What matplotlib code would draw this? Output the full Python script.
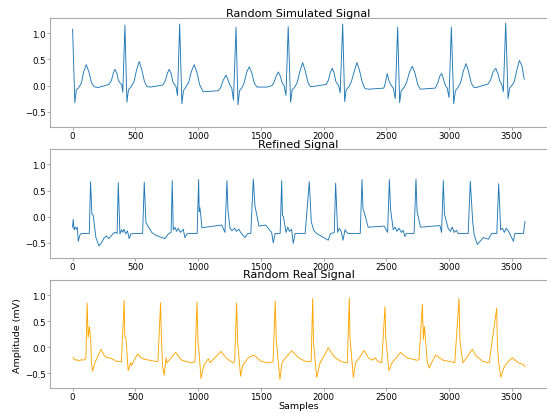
import matplotlib
matplotlib.use("Agg")
import matplotlib.pyplot as plt

# simulated ECG (sample index, amplitude in mV), vertices
sim_x = [0, 18, 30, 50, 70, 88, 109, 130, 150, 170, 200, 290, 310, 325, 338, 352, 365, 378, 392, 400, 417,
         433, 445, 465, 490, 510, 531, 552, 572, 592, 620, 720, 740, 756, 770, 784, 798, 812, 824, 836, 853,
         871, 883, 900, 925, 948, 969, 990, 1012, 1040, 1160, 1180, 1200, 1222, 1240, 1255, 1268, 1282, 1302,
         1318, 1330, 1350, 1368, 1388, 1408, 1428, 1448, 1470, 1550, 1590, 1605, 1622, 1639, 1655, 1670, 1685, 1700, 1718,
         1737, 1750, 1770, 1790, 1812, 1833, 1854, 1875, 1895, 1915, 2020, 2038, 2055, 2069, 2083, 2097, 2110, 2120, 2132, 2152,
         2168, 2180, 2200, 2222, 2245, 2266, 2287, 2308, 2330, 2360, 2480, 2492, 2507, 2522, 2540, 2555, 2571, 2590,
         2606, 2618, 2638, 2660, 2685, 2707, 2728, 2750, 2770, 2890, 2910, 2926, 2941, 2955, 2970, 2985, 2999, 3018,
         3037, 3050, 3070, 3092, 3114, 3135, 3156, 3176, 3195, 3215, 3310, 3330, 3350, 3372, 3390, 3405, 3418, 3432, 3451,
         3470, 3482, 3500, 3520, 3540, 3560, 3580, 3599]
sim_y = [1.08, -0.33, -0.08, -0.04, 0.05, 0.26, 0.40, 0.26, 0.06, -0.02, -0.04, 0.02, 0.10, 0.24, 0.31, 0.24, 0.10, 0.05, 0.02, -0.13, 1.16,
         -0.32, -0.08, -0.03, 0.08, 0.30, 0.46, 0.30, 0.08, -0.02, -0.03, 0.01, 0.10, 0.24, 0.31, 0.24, 0.08, 0.02, -0.02, -0.19, 1.18,
         -0.35, -0.10, -0.04, 0.06, 0.28, 0.40, 0.26, 0.02, -0.12, -0.10, -0.04, 0.10, 0.20, 0.10, 0.00, -0.05, -0.28, 1.12,
         -0.37, -0.10, -0.04, 0.06, 0.26, 0.36, 0.24, 0.04, -0.03, -0.03, 0.00, 0.06, 0.18, 0.26, 0.18, 0.05, 0.00, -0.19, 1.13,
         -0.32, -0.08, -0.03, 0.06, 0.28, 0.44, 0.28, 0.06, -0.02, -0.02, 0.02, 0.10, 0.26, 0.33, 0.25, 0.08, 0.03, 0.00, -0.14, 1.18,
         -0.31, -0.08, -0.03, 0.08, 0.28, 0.44, 0.28, 0.06, -0.06, -0.07, -0.05, 0.05, 0.23, 0.08, 0.00, -0.05, -0.25, 1.12,
         -0.33, -0.10, -0.05, 0.05, 0.26, 0.37, 0.24, 0.02, -0.07, -0.05, 0.05, 0.18, 0.23, 0.12, 0.00, -0.05, -0.23, 1.12,
         -0.35, -0.10, -0.04, 0.06, 0.28, 0.42, 0.26, 0.05, -0.03, -0.04, 0.03, 0.10, 0.26, 0.33, 0.22, 0.08, 0.03, -0.12, 1.20,
         -0.25, -0.05, 0.00, 0.08, 0.30, 0.48, 0.38, 0.12]

# refined signal
ref_x = [0, 5, 12, 20, 30, 37, 45, 60, 72, 133, 143, 154, 164, 186, 199, 210, 235, 252, 271, 289, 324, 340, 355, 364,
         377, 390, 400, 410, 423, 437, 451, 465, 483, 558, 571, 584, 630, 667, 736, 762, 785, 794,
         802, 815, 828, 842, 860, 882, 895, 910, 921, 993, 1004, 1009, 1015, 1031, 1188, 1214, 1230,
         1238, 1254, 1270, 1290, 1305, 1325, 1339, 1373, 1397, 1420, 1440, 1453, 1485, 1538, 1586, 1599, 1614, 1654, 1666,
         1672, 1680, 1701, 1715, 1728, 1745, 1758, 1773, 1853, 1886, 1902, 1923, 1950, 2037, 2053, 2085, 2096,
         2112, 2125, 2140, 2155, 2170, 2185, 2197, 2292, 2306, 2314, 2322, 2355, 2483, 2510, 2524,
         2534, 2555, 2570, 2585, 2600, 2620, 2634, 2647, 2660, 2721, 2736, 2745, 2772, 2927, 2940, 2954,
         2963, 2992, 3010, 3025, 3040, 3059, 3072, 3152, 3169, 3188, 3200, 3225, 3273, 3313, 3339, 3380, 3395,
         3411, 3425, 3440, 3455, 3474, 3512, 3525, 3592, 3605]
ref_y = [-0.20, -0.05, -0.25, -0.20, -0.24, -0.20, -0.47, -0.34, -0.32, -0.32, 0.67, 0.05, 0.03, -0.40, -0.49, -0.56, -0.48, -0.40, -0.37, -0.42, -0.32, -0.30, -0.32, 0.65,
         -0.33, -0.25, -0.30, -0.24, -0.33, -0.27, -0.42, -0.33, -0.32, -0.32, 0.66, -0.11, -0.30, -0.36, -0.42, -0.33, -0.30, 0.69,
         -0.25, -0.20, -0.28, -0.22, -0.30, -0.24, -0.40, -0.33, -0.32, -0.32, 0.71, 0.10, 0.17, -0.21, -0.16, -0.30, 0.69,
         0.13, -0.22, -0.27, -0.22, -0.28, -0.24, -0.30, -0.40, -0.32, -0.32, 0.72, 0.21, -0.18, -0.16, -0.30, -0.50, -0.32, -0.32, 0.69,
         0.02, 0.00, -0.30, -0.20, -0.28, -0.24, -0.51, -0.32, -0.32, 0.67, -0.10, -0.27, -0.33, -0.45, -0.33, -0.30, 0.64,
         -0.30, -0.22, -0.28, -0.45, -0.25, -0.30, -0.32, -0.32, 0.71, 0.15, 0.10, -0.20, -0.18, -0.30, 0.71,
         0.13, -0.25, -0.20, -0.28, -0.22, -0.30, -0.26, -0.38, -0.32, -0.32, 0.72, 0.10, -0.20, -0.17, -0.30, 0.69,
         0.05, -0.22, -0.28, -0.20, -0.30, -0.26, -0.32, -0.32, 0.68, -0.10, -0.35, -0.53, -0.40, -0.43, -0.32, -0.32, 0.63,
         -0.25, -0.22, -0.30, -0.22, -0.28, -0.47, -0.32, -0.32, -0.09]

# real signal
real_x = [5, 20, 35, 50, 70, 85, 106, 116, 124, 135, 145, 151, 159, 178, 205, 226, 250, 271, 306, 351, 389, 411,
          416, 425, 443, 462, 470, 490, 518, 545, 570, 616, 680, 701, 708, 718, 730, 745, 752, 821, 869, 948, 975, 991,
          999, 1008, 1023, 1045, 1082, 1095, 1182, 1230, 1280, 1291, 1307, 1315, 1339, 1355, 1386, 1400, 1445, 1502, 1559, 1597, 1615,
          1623, 1652, 1668, 1690, 1745, 1800, 1853, 1901, 1913, 1920, 1945, 1972, 2000, 2037, 2090, 2143, 2189, 2205,
          2210, 2237, 2255, 2285, 2324, 2356, 2390, 2410, 2430, 2463, 2489, 2496, 2521, 2545, 2614, 2661, 2741, 2760, 2787,
          2795, 2803, 2827, 2843, 2860, 2893, 2953, 3019, 3045, 3079, 3086, 3098, 3110, 3185, 3210, 3266, 3319, 3379,
          3385, 3395, 3413, 3435, 3461, 3503, 3552, 3592, 3605]
real_y = [-0.20, -0.25, -0.24, -0.26, -0.24, -0.25, -0.22, 0.85, 0.19, 0.40, 0.10, -0.30, -0.46, -0.30, -0.15, -0.04, -0.15, -0.20, -0.21, -0.27, -0.28, 0.90,
          0.20, 0.18, -0.45, -0.30, -0.35, -0.25, -0.13, -0.20, -0.23, -0.25, -0.28, 0.86, 0.15, -0.38, -0.54, -0.20, -0.30, -0.10, -0.25, -0.30, -0.28, 0.87,
          0.10, -0.10, -0.60, -0.35, -0.22, -0.30, -0.08, -0.22, -0.30, -0.27, 0.85, 0.10, -0.56, -0.35, -0.25, -0.20, -0.15, -0.27, -0.30, -0.28, 0.89,
          0.13, -0.62, -0.30, -0.22, -0.07, -0.20, -0.27, -0.28, 0.94, 0.08, -0.58, -0.30, -0.18, -0.01, -0.20, -0.28, -0.30, 0.95,
          0.20, -0.58, -0.30, -0.20, -0.06, -0.20, -0.25, -0.20, -0.27, -0.30, 0.78, 0.15, -0.45, -0.30, -0.10, -0.20, -0.25, -0.24, 0.83,
          0.15, 0.40, -0.30, -0.40, -0.30, -0.15, -0.25, -0.28, -0.30, 0.94, 0.15, -0.10, -0.30, -0.04, -0.15, -0.27, -0.30, 0.75,
          0.05, -0.30, -0.58, -0.40, -0.30, -0.20, -0.30, -0.33, -0.37]

titles = ["Random Simulated Signal", "Refined Signal", "Random Real Signal"]

fig = plt.figure(figsize=(5.47, 4.14), dpi=100)
boxes = [[0.0914, 0.6916, 0.9086, 0.2618],
         [0.0914, 0.3744, 0.9086, 0.2626],
         [0.0914, 0.0597, 0.9086, 0.2609]]
series = [(sim_x, sim_y, "#1f77b4"), (ref_x, ref_y, "#1f77b4"), (real_x, real_y, "orange")]

for box, (xs, ys, col), title in zip(boxes, series, titles):
    ax = fig.add_axes(box)
    ax.plot(xs, ys, color=col, lw=0.65)
    ax.set_xlim(-180, 3780)
    ax.set_ylim(-0.79, 1.29)
    ax.set_xticks([0, 500, 1000, 1500, 2000, 2500, 3000, 3500])
    ax.set_yticks([-0.5, 0.0, 0.5, 1.0])
    ax.set_title(title, fontsize=8, pad=2)
    ax.tick_params(labelsize=6.2, length=2, width=0.6, color="#999999", pad=1)
    for sp in ax.spines.values():
        sp.set_color("#aaaaaa")
    ax.spines["right"].set_visible(False)
    last = ax

last.set_xlabel("Samples", fontsize=6.8, labelpad=0)
last.set_ylabel("Amplitude (mV)", fontsize=6.8, labelpad=2)

fig.savefig("out.png", dpi=100)
